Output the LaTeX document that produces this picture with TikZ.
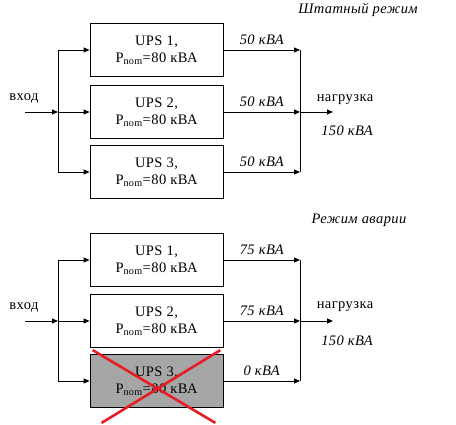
\documentclass[tikz,border=0pt]{standalone}
\usepackage{fontspec}
\setmainfont{Liberation Serif}[LetterSpace=3]
\usepackage{xcolor}
\usetikzlibrary{arrows.meta,positioning,calc}
\definecolor{deadgray}{RGB}{166,166,166}
\definecolor{crossred}{RGB}{232,28,36}
\tikzset{
  upsbox/.style={rectangle, draw, line width=0.8pt, minimum width=133pt, minimum height=53pt, align=center, inner sep=0pt, font=\fontsize{14.5}{17}\selectfont},
  deadbox/.style={upsbox, fill=deadgray},
  line/.style={line width=0.8pt},
  arrow/.style={line, -{Triangle[length=6pt,width=5pt]}},
  lbl/.style={inner sep=1pt, font=\fontsize{14.5}{17}\selectfont},
  ilbl/.style={inner sep=1pt, font=\fontsize{14.5}{17}\selectfont\itshape},
  cross/.style={draw=crossred, line width=2.6pt},
}

\begin{document}
\begin{tikzpicture}[x=1pt,y=-1pt]
  \useasboundingbox (0,0) rectangle (456,425);

  % Normal mode
  \node[ilbl] (ntitle) at (358,10) {Штатный режим};

  \foreach \i/\y in {1/50,2/112,3/172} {
    \node[upsbox] (n\i) at (156.5,\y) {UPS \i,\\P\textsubscript{nom}=80 кВА};
    \coordinate (nl\i) at (58,\y);
    \coordinate (nr\i) at (300,\y);
    \draw[arrow] (nl\i) -- (n\i.west);
    \draw[arrow] (n\i.east) -- node[ilbl, above=4pt] (np\i) {50 кВА} (nr\i);
  }

  \coordinate (nin) at (25,112);
  \node[lbl] (nintxt) at (24,98) {вход};
  \draw[arrow] (nin) -- (nl2);
  \draw[line] (nl1) -- (nl3);
  \draw[line] (nr1) -- (nr3);

  \coordinate (nout) at (333,112);
  \draw[arrow] (nr2) -- (nout);
  \node[lbl] (nload) at (345,100) {нагрузка};
  \node[ilbl] (ntotal) at (347,131) {150 кВА};

  % Failure mode
  \node[ilbl] (ftitle) at (359,220) {Режим аварии};

  \foreach \i/\y/\p/\st in {1/260/75/upsbox,2/321/75/upsbox,3/381/0/deadbox} {
    \node[\st] (f\i) at (156.5,\y) {UPS \i,\\P\textsubscript{nom}=80 кВА};
    \coordinate (fl\i) at (58,\y);
    \coordinate (fr\i) at (300,\y);
    \draw[arrow] (fl\i) -- (f\i.west);
    \draw[arrow] (f\i.east) -- node[ilbl, above=4pt] (fp\i) {\p{} кВА} (fr\i);
  }

  \coordinate (fin) at (25,321);
  \node[lbl] (fintxt) at (24,307) {вход};
  \draw[arrow] (fin) -- (fl2);
  \draw[line] (fl1) -- (fl3);
  \draw[line] (fr1) -- (fr3);

  \coordinate (fout) at (333,321);
  \draw[arrow] (fr2) -- (fout);
  \node[lbl] (fload) at (345,307) {нагрузка};
  \node[ilbl] (ftotal) at (347,341) {150 кВА};

  % failed unit
  \draw[cross] ($(f3.north west)+(3,-4)$) -- ($(f3.south east)+(-8,15)$);
  \draw[cross] ($(f3.north east)+(-3,-4)$) -- ($(f3.south west)+(12,15)$);
\end{tikzpicture}
\end{document}
